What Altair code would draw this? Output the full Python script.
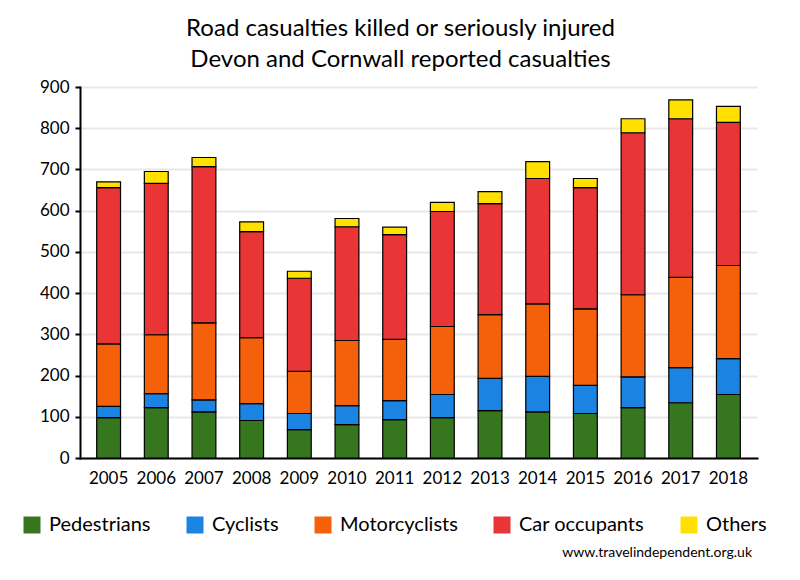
import altair as alt
import pandas as pd

years = [str(y) for y in range(2005, 2019)]
pedestrians = [98, 122, 112, 91, 69, 81, 93, 98, 115, 112, 108, 122, 134, 154]
cyclists = [27, 34, 29, 41, 39, 46, 46, 56, 78, 86, 68, 75, 85, 87]
motorcyclists = [152, 143, 187, 160, 102, 158, 149, 165, 155, 176, 186, 199, 219, 226]
car_occupants = [379, 367, 379, 257, 226, 276, 254, 279, 269, 304, 294, 393, 385, 347]
others = [14, 29, 22, 24, 17, 20, 18, 22, 29, 41, 22, 34, 46, 39]

categories = ["Pedestrians", "Cyclists", "Motorcyclists", "Car occupants", "Others"]
colors = ["#36761f", "#1b83e1", "#f5600b", "#e93535", "#ffe000"]
series = [pedestrians, cyclists, motorcyclists, car_occupants, others]

rows = []
for ci, (cat, vals) in enumerate(zip(categories, series)):
    for y, v in zip(years, vals):
        rows.append({"Year": y, "Type": cat, "Value": v, "order": ci})
df = pd.DataFrame(rows)

FONT = "Lato"

bars = alt.Chart(df).mark_bar(stroke="black", strokeWidth=1.2).encode(
    x=alt.X("Year:N", title=None,
            scale=alt.Scale(paddingInner=0.5, paddingOuter=0.35),
            axis=alt.Axis(labelAngle=0, labelFontSize=17, labelColor="black",
                          labelFont=FONT, ticks=False, labelPadding=12,
                          domainColor="black", domainWidth=2)),
    y=alt.Y("sum(Value):Q", title=None,
            scale=alt.Scale(domain=[0, 900], nice=False),
            axis=alt.Axis(values=list(range(0, 901, 100)), labelFontSize=17,
                          labelColor="black", labelFont=FONT, tickSize=5,
                          tickWidth=2, tickColor="black", labelPadding=6,
                          domainColor="black", domainWidth=2,
                          gridColor="#e8e8e8", gridWidth=2)),
    color=alt.Color("Type:N", title=None,
                    scale=alt.Scale(domain=categories, range=colors),
                    legend=alt.Legend(orient="none", legendX=-58, legendY=428,
                                      direction="horizontal", symbolType="square",
                                      symbolSize=289, symbolStrokeWidth=0,
                                      labelFontSize=20, labelFont=FONT,
                                      labelColor="black", labelOffset=7,
                                      columnPadding=34, labelLimit=0)),
    order=alt.Order("order:Q", sort="ascending"),
)

credit = alt.Chart(alt.Data(values=[{}])).mark_text(
    text="www.travelindependent.org.uk", font=FONT, fontSize=14,
    align="right", baseline="middle", color="black"
).encode(x=alt.value(672), y=alt.value(466))

chart = alt.layer(bars, credit).properties(
    width=677, height=371,
    autosize=alt.AutoSizeParams(type="none"),
    padding={"left": 72, "top": 79, "right": 35, "bottom": 110},
    title=alt.Title(["Road casualties killed or seriously injured",
                     "Devon and Cornwall reported casualties"],
                    font=FONT, fontSize=24, fontWeight="normal", color="black",
                    lineHeight=31, anchor="middle", dx=-18, dy=2, offset=8),
).configure_view(stroke=None).configure_axis(domainCap="square")

chart.save("out.html", embed_options={"renderer": "svg", "actions": False})
